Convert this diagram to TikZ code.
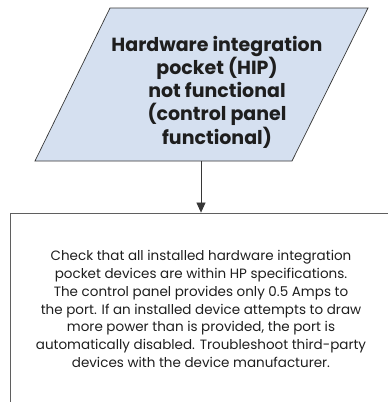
\documentclass[tikz,border=0pt]{standalone}
\usepackage{fontspec}
\setmainfont{Poppins}
\usepackage{xcolor}
\usetikzlibrary{arrows.meta,positioning}
\definecolor{HipFill}{RGB}{213,224,240}
\definecolor{HipRule}{RGB}{55,55,55}
\definecolor{BoxRule}{RGB}{95,95,95}
\definecolor{InkCol}{RGB}{30,30,30}
\tikzset{
  hpshape/.style={fill=HipFill, draw=HipRule, line width=0.7pt},
  hptitle/.style={font=\fontsize{19}{23.2}\selectfont\bfseries, align=center, inner sep=0pt, text=InkCol},
  hpbox/.style={draw=BoxRule, line width=0.8pt, minimum width=382pt, minimum height=192pt,
    inner sep=0pt, align=center, text=InkCol, font=\fontsize{13.5}{17.9}\selectfont},
  hpflow/.style={-{Triangle[length=10pt,width=9pt]}, line width=0.7pt, draw=HipRule}
}

\begin{document}
\begin{tikzpicture}[x=1pt,y=-1pt]
  \useasboundingbox (0,0) rectangle (388,402);
  \clip (0,0) rectangle (388,402);
  % decision shape
  \draw[hpshape] (110,8) -- (368,8) -- (292,161) -- (35,161) -- cycle;
  \node[hptitle] (hip) at (217,92) {Hardware integration\\pocket (HIP)\\not functional\\(control panel\\functional)};
  \coordinate (hipfoot) at (201,161);
  % action box, runs off the page
  \node[hpbox] (check) at (201,309) {Check that all installed hardware integration\\
    pocket devices are within HP specifications.\\
    The control panel provides only 0.5 Amps to\\
    the port. If an installed device attempts to draw\\
    more power than is provided, the port is\\
    automatically disabled. Troubleshoot third-party\\
    devices with the device manufacturer.};
  \draw[hpflow] (hipfoot) -- (check.north);
\end{tikzpicture}
\end{document}
